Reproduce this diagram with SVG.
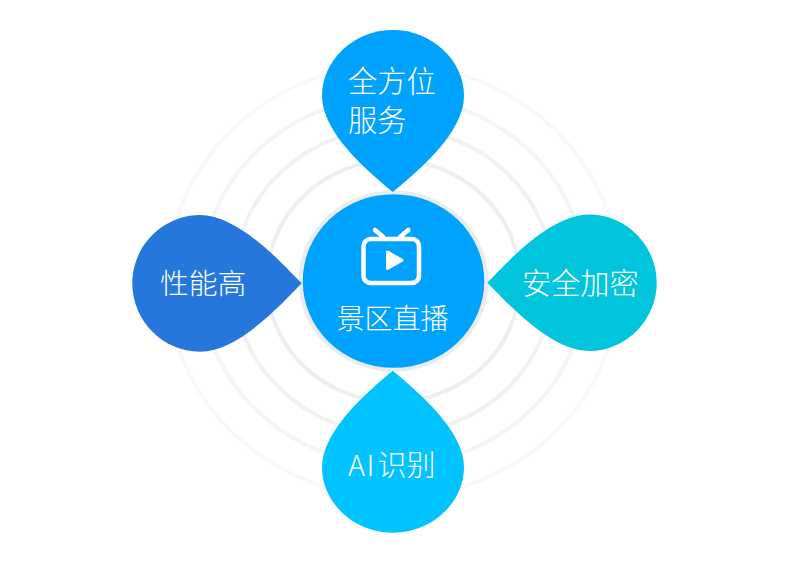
<svg xmlns="http://www.w3.org/2000/svg" width="789" height="564" viewBox="0 0 789 564">
<style>
text{font-family:"Noto Sans CJK SC","Noto Sans",sans-serif;fill:#fff;font-weight:300}
.r{fill:none;stroke-width:4}
</style>
<rect width="789" height="564" fill="#fff"/>
<g id="rings">
<ellipse class="r" cx="393.500" cy="281" rx="226" ry="216" stroke="#f8f8f8"/>
<ellipse class="r" cx="393.500" cy="281" rx="192.500" ry="184" stroke="#f4f4f4"/>
<ellipse class="r" cx="393.500" cy="281" rx="160" ry="153" stroke="#f1f1f1"/>
<ellipse class="r" cx="393.500" cy="281" rx="126.500" ry="121" stroke="#eeeeee"/>
<ellipse class="r" cx="393.500" cy="281" rx="93" ry="88.500" stroke="#ececec"/>
</g>
<g id="connectors"/>
<g id="node-top">
<path d="M392.700 192C366 170 322 132 322 96C322 60 354 30 392.700 30C431.500 30 464 60 464 96C464 132 419.500 170 392.700 192Z" fill="#00a2ff"/>
<text x="348" y="92" font-size="29.300">全方位</text>
<text x="348" y="131" font-size="29.300">服务</text>
</g>
<g id="node-left">
<path d="M301.700 283.300C285 267 240 215 200 215C163 215 132.300 246 132.300 283.300C132.300 321 163 351.700 200 351.700C240 351.700 285 300 301.700 283.300Z" fill="#2577dc"/>
<text x="160" y="294" font-size="28.800">性能高</text>
</g>
<g id="node-right">
<path d="M487.300 282.700C504 266 549 214.500 589 214.500C626 214.500 656.700 245 656.700 282.700C656.700 320 626 351 589 351C549 351 504 299 487.300 282.700Z" fill="#00c5dc"/>
<text x="522" y="294" font-size="29.200">安全加密</text>
</g>
<g id="node-bottom">
<path d="M392.700 370.700C419.500 393 464 431 464 467C464 503 431.500 532.700 392.700 532.700C354 532.700 322 503 322 467C322 431 366 393 392.700 370.700Z" fill="#00c3ff"/>
<text x="348" y="476" font-size="29" letter-spacing="1.500">AI</text>
<text x="377.500" y="476" font-size="29">识别</text>
</g>
<g id="node-center">
<ellipse cx="393.500" cy="281" rx="90.800" ry="86.800" fill="#00a2ff"/>
<g fill="none" stroke="#fff" stroke-width="4.500" stroke-linecap="round" stroke-linejoin="round">
<rect x="363.500" y="239" width="55.500" height="44" rx="7"/>
<path d="M375 230L383.300 237M408.300 230L400 237"/>
</g>
<path d="M387.500 252V268.500L402 260.300Z" fill="#fff" stroke="#fff" stroke-width="3" stroke-linejoin="round"/>
<text x="336.500" y="329" font-size="28">景区直播</text>
</g>
</svg>
